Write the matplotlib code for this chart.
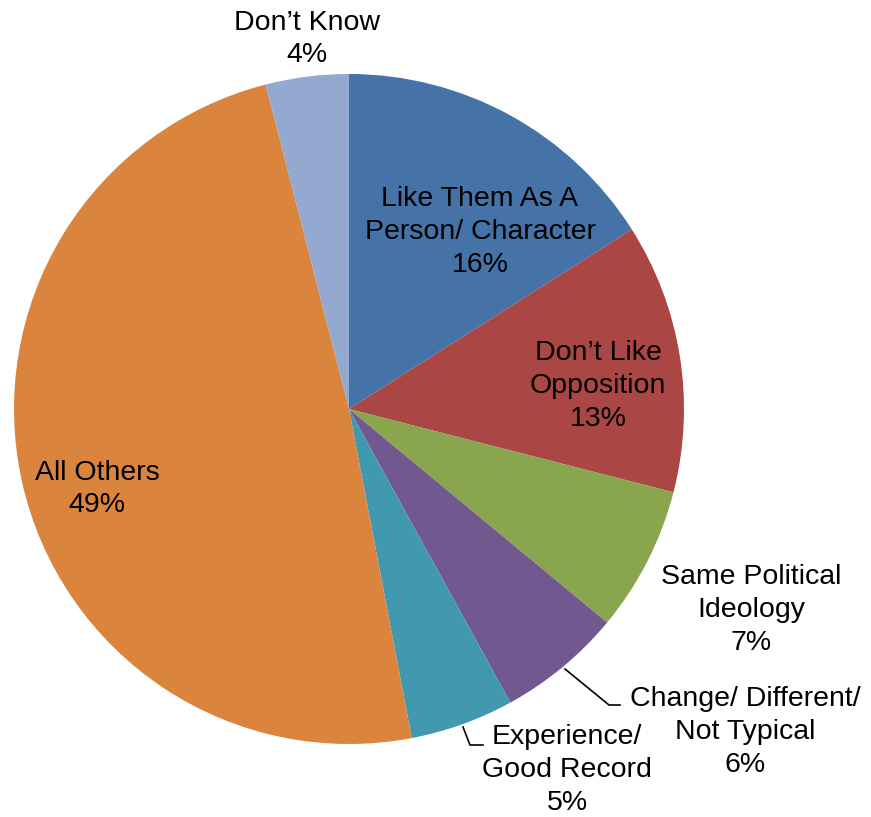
import numpy as np
import matplotlib.pyplot as plt

plt.rcParams['font.family'] = ['Liberation Sans', 'DejaVu Sans']

# ---- data ----
labels = ['Like Them As A\nPerson/ Character', 'Don\u2019t Like\nOpposition',
          'Same Political\nIdeology', 'Change/ Different/\nNot Typical',
          'Experience/\nGood Record', 'All Others', 'Don\u2019t Know']
values = [16, 13, 7, 6, 5, 49, 4]
colors = ['#4572A7', '#AA4643', '#89A54E', '#71588F', '#4198AF', '#DB843D', '#93A9CF']

# label centres in pixel coords (x, y from top)
label_pos = [(480, 232), (598, 386), (751, 610), (745, 732), (567, 770), (97, 489), (307, 39)]

W, H = 871, 817
fig = plt.figure(figsize=(W / 100, H / 100), dpi=100)
ax = fig.add_axes([0, 0, 1, 1])

cx, cy, r = 349, H - 409, 335
ax.pie(values, colors=colors, startangle=90, counterclock=False,
       center=(cx, cy), radius=r, frame=True,
       wedgeprops=dict(linewidth=0))
ax.set_xlim(0, W)
ax.set_ylim(0, H)
ax.axis('off')

for lab, v, (x, y) in zip(labels, values, label_pos):
    ax.text(x, H - y, f'{lab}\n{v}%', ha='center', va='center',
            fontsize=20.5, linespacing=1.33, multialignment='center')

# leader lines
ax.plot([565, 609, 620], [H - 669, H - 705, H - 705], color='black', lw=1.2)
ax.plot([463, 470, 483], [H - 727, H - 745, H - 745], color='black', lw=1.2)

fig.savefig('out.png', dpi=100)
